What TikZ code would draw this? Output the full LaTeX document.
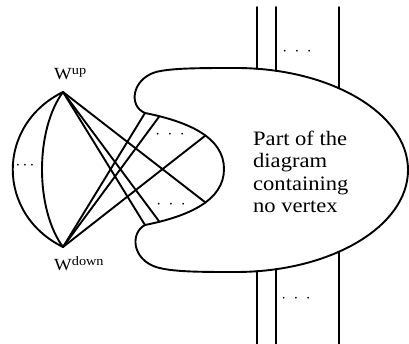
\documentclass[tikz,border=0pt]{standalone}
\usepackage{fontspec}
\setmainfont{Liberation Serif}
\newfontfamily\widserif[FakeStretch=1.1]{Liberation Serif}
\begin{document}
\begin{tikzpicture}[x=1pt,y=1pt,yscale=-1,
  wire/.style={line width=1.9pt, line join=round, line cap=round},
  dotsnode/.style={inner sep=0pt, font=\fontsize{16}{16}\selectfont},
  wlabel/.style={inner sep=0pt, anchor=base west, font=\fontsize{17}{17}\selectfont\widserif},
  bodytext/.style={inner sep=0pt, anchor=north west, align=left,
    font=\fontsize{20.5}{22.5}\selectfont\widserif}]
\useasboundingbox (0,0) rectangle (409,344);

% vertices
\coordinate (wu) at (63,92);
\coordinate (wd) at (63,247);

% blob
\draw[wire] (236,68) arc (-90:90:172 and 102)
  .. controls (200,272) and (172,272) .. (156,267)
  .. controls (132,259) and (130,233) .. (145,225) coordinate (J2)
  .. controls (190,216) and (224,200) .. (224,169)
     coordinate[pos=0.11] (L2) coordinate[pos=0.55] (L3)
  .. controls (224,138) and (190,122) .. (145,113)
     coordinate[pos=0.45] (U3) coordinate[pos=0.89] (U2)
  coordinate (J1)
  .. controls (128,106) and (132,79) .. (156,72)
  .. controls (172,68) and (200,68) .. cycle;

% left arcs
\draw[wire] (wu) .. controls (-4,125) and (-4,214) .. (wd);
\draw[wire] (wu) .. controls (35,130) and (35,209) .. (wd);

% crossing lines
\draw[wire] (wu) -- (J2);
\draw[wire] (wu) -- (L2);
\draw[wire] (wu) -- (L3);
\draw[wire] (wd) -- (J1);
\draw[wire] (wd) -- (U2);
\draw[wire] (wd) -- (U3);

% vertical strands
\coordinate (t1) at (257,7);   \coordinate (t1b) at (257,68.8);
\coordinate (t2) at (276,7);   \coordinate (t2b) at (276,70.8);
\coordinate (t3) at (339,7);   \coordinate (t3b) at (339,88.3);
\coordinate (b1) at (257,344); \coordinate (b1t) at (257,271.2);
\coordinate (b2) at (276,344); \coordinate (b2t) at (276,269.2);
\coordinate (b3) at (339,344); \coordinate (b3t) at (339,251.7);
\draw[wire] (t1) -- (t1b);
\draw[wire] (t2) -- (t2b);
\draw[wire] (t3) -- (t3b);
\draw[wire] (b1t) -- (b1);
\draw[wire] (b2t) -- (b2);
\draw[wire] (b3t) -- (b3);

% dots
\node[dotsnode] (dl) at (25,166) {${\cdot}\hspace{2.2pt}{\cdot}\hspace{2.2pt}{\cdot}$};
\node[dotsnode] (du) at (170,135) {${\cdot}\hspace{7.5pt}{\cdot}\hspace{7.5pt}{\cdot}$};
\node[dotsnode] (dd) at (171,205) {${\cdot}\hspace{7.5pt}{\cdot}\hspace{7.5pt}{\cdot}$};
\node[dotsnode] (dt) at (297,52) {${\cdot}\hspace{7.5pt}{\cdot}\hspace{7.5pt}{\cdot}$};
\node[dotsnode] (db) at (296,299) {${\cdot}\hspace{7.5pt}{\cdot}\hspace{7.5pt}{\cdot}$};

% labels
\node[wlabel] (lu) at (54,80) {W\raisebox{5pt}{\fontsize{13}{13}\selectfont up}};
\node[wlabel] (ld) at (54,270) {W\raisebox{5pt}{\fontsize{13}{13}\selectfont down}};
\node[bodytext] (txt) at (253,130.5) {Part of the\\diagram\\containing\\no vertex};
\end{tikzpicture}
\end{document}
